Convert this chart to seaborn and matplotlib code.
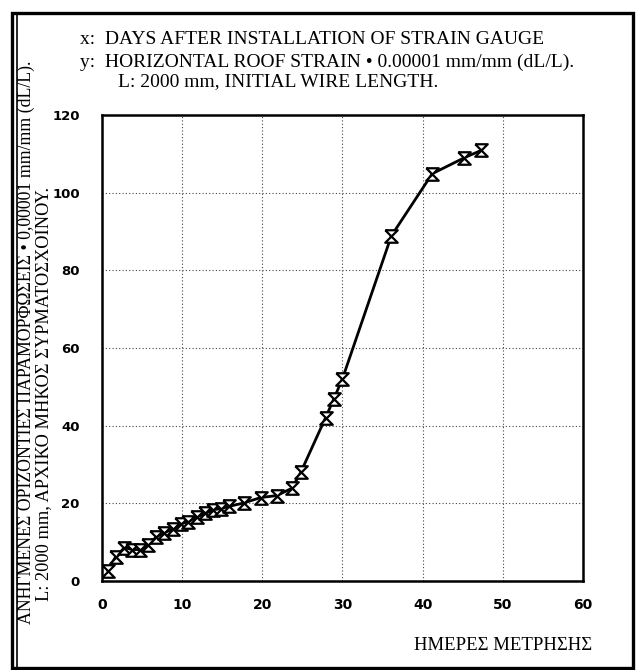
import matplotlib
matplotlib.use("Agg")
import matplotlib.pyplot as plt
from matplotlib.patches import Rectangle
from matplotlib.lines import Line2D
import seaborn as sns
import pandas as pd

days = [0.7, 1.7, 2.8, 3.8, 4.8, 5.7, 6.8, 7.7, 8.8, 9.9, 10.7, 11.8, 12.9, 13.9,
        14.8, 15.8, 17.7, 19.8, 21.8, 23.7, 24.8, 27.9, 28.9, 30.0, 36.1, 41.2, 45.2, 47.3]
strain = [2.7, 6.2, 8.6, 8.1, 8.1, 9.2, 11.4, 12.4, 13.3, 14.8, 15.2, 16.5, 17.4, 18.4,
          18.6, 19.2, 20.1, 21.5, 22.0, 23.9, 28.0, 42.1, 46.8, 52.1, 88.9, 104.9, 109.0, 110.9]

x_ticks = [0, 10, 20, 30, 40, 50, 60]
y_ticks = [0, 20, 40, 60, 80, 100, 120]

title_lines = ["x:  DAYS AFTER INSTALLATION OF STRAIN GAUGE",
               "y:  HORIZONTAL ROOF STRAIN \u2022 0.00001 mm/mm (dL/L).",
               "L: 2000 mm, INITIAL WIRE LENGTH."]
ylabel_1 = "\u0391\u039d\u0397\u0393\u039c\u0395\u039d\u0395\u03a3 \u039f\u03a1\u0399\u0396\u039f\u039d\u03a4\u0399\u0395\u03a3 \u03a0\u0391\u03a1\u0391\u039c\u039f\u03a1\u03a6\u03a9\u03a3\u0395\u0399\u03a3 \u2022 0,00001 mm/mm (dL/L)."
ylabel_2 = "L: 2000 mm, \u0391\u03a1\u03a7\u0399\u039a\u039f \u039c\u0397\u039a\u039f\u03a3 \u03a3\u03a5\u03a1\u039c\u0391\u03a4\u039f\u03a3\u03a7\u039f\u0399\u039d\u039f\u03a5."
xlabel = "\u0397\u039c\u0395\u03a1\u0395\u03a3 \u039c\u0395\u03a4\u03a1\u0397\u03a3\u0397\u03a3"

df = pd.DataFrame({"day": days, "strain": strain})

sns.set_style("white")
plt.rcParams["text.color"] = "black"
serif = ["Liberation Serif", "DejaVu Serif"]

fig = plt.figure(figsize=(6.39, 6.70), dpi=100)
ax = fig.add_axes([0.1596, 0.1328, 0.7527, 0.6955])

hourglass = [(-1, 1), (1, 1), (-1, -1), (1, -1), (-1, 1)]
sns.lineplot(data=df, x="day", y="strain", ax=ax, color="black", lw=2.0,
             marker=hourglass, markersize=9, markerfacecolor="white",
             markeredgecolor="black", markeredgewidth=1.6, sort=True)

ax.set_xlim(0, 60)
ax.set_ylim(0, 120)
ax.set_xticks(x_ticks)
ax.set_yticks(y_ticks)
ax.set_xticklabels([str(t) for t in x_ticks], fontweight="bold",
                   family="DejaVu Sans", fontsize=10, color="black")
ax.set_yticklabels([str(t) for t in y_ticks], fontweight="bold",
                   family="DejaVu Sans", fontsize=9.5, color="black")
ax.tick_params(axis="x", direction="inout", length=9, width=1.3, color="black", pad=8)
ax.tick_params(axis="y", direction="inout", length=12, width=1.3, color="black", pad=10)
ax.grid(True, linestyle=(0, (1, 2)), color="#444444", linewidth=0.8)
for s in ax.spines.values():
    s.set_color("black")
    s.set_linewidth(1.8)
ax.set_xlabel("")
ax.set_ylabel("")

# title block
fig.text(80 / 639, 1 - 40 / 670, title_lines[0], family=serif, fontsize=14, va="center")
fig.text(80 / 639, 1 - 62 / 670, title_lines[1], family=serif, fontsize=14, va="center")
fig.text(118 / 639, 1 - 82 / 670, title_lines[2], family=serif, fontsize=14, va="center")

# rotated y labels
fig.text(26 / 639, 1 - 342 / 670, ylabel_1, family=serif, fontsize=12.8,
         rotation=90, ha="center", va="center")
fig.text(44 / 639, 1 - 394 / 670, ylabel_2, family=serif, fontsize=13.2,
         rotation=90, ha="center", va="center")

fig.text(592 / 639, 1 - 645 / 670, xlabel, family=serif, fontsize=13.5,
         ha="right", va="center")

# outer frame
fig.patches.append(Rectangle((12 / 639, 1 - 668 / 670), 621 / 639, 655 / 670,
                             transform=fig.transFigure, fill=False,
                             edgecolor="black", linewidth=2.4))
fig.lines.append(Line2D([17 / 639, 17 / 639], [1 - 668 / 670, 1 - 13 / 670],
                        transform=fig.transFigure, color="black", linewidth=1.2))

fig.savefig("out.png", dpi=100)
